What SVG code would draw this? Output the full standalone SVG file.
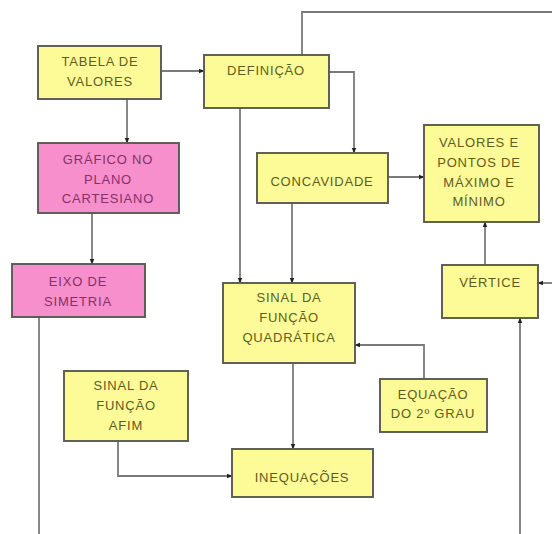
<svg xmlns="http://www.w3.org/2000/svg" width="552" height="534" viewBox="0 0 552 534">
  <style>
    .box { stroke: #5a5a50; stroke-width: 1.9; }
    .y { fill: #fdfb98; }
    .p { fill: #f68fcb; }
    .t { font-family: "Liberation Sans", "DejaVu Sans", sans-serif; font-size: 13px; text-anchor: middle; letter-spacing: 0.8px; }
    .ty { fill: #5f5c1c; }
    .tp { fill: #86306a; }
    .c { fill: none; stroke: #7a7a7a; stroke-width: 1.8; }
  </style>
  <defs>
    <marker id="ah" viewBox="0 0 10 10" refX="9" refY="5" markerWidth="6" markerHeight="6" orient="auto" markerUnits="userSpaceOnUse">
      <path d="M0,1 L10,5 L0,9 z" fill="#222"/>
    </marker>
  </defs>
  <rect width="552" height="534" fill="#ffffff"/>

  <g id="connectors">
    <path class="c" d="M161,71 H204" marker-end="url(#ah)"/>
    <path class="c" d="M127,99 V143" marker-end="url(#ah)"/>
    <path class="c" d="M92,213 V264" marker-end="url(#ah)"/>
    <path class="c" d="M39,317 V534"/>
    <path class="c" d="M240,108 V283" marker-end="url(#ah)"/>
    <path class="c" d="M329,72 H354 V153" marker-end="url(#ah)"/>
    <path class="c" d="M302,55 V12 H552"/>
    <path class="c" d="M388,177 H424" marker-end="url(#ah)"/>
    <path class="c" d="M292,203 V283" marker-end="url(#ah)"/>
    <path class="c" d="M485,265 V222" marker-end="url(#ah)"/>
    <path class="c" d="M552,283 H538" marker-end="url(#ah)"/>
    <path class="c" d="M520,534 V318" marker-end="url(#ah)"/>
    <path class="c" d="M424,379 V345 H355" marker-end="url(#ah)"/>
    <path class="c" d="M293,363 V449" marker-end="url(#ah)"/>
    <path class="c" d="M118,441 V476 H232" marker-end="url(#ah)"/>
  </g>

  <g id="tabela">
    <rect class="box y" x="38" y="46" width="123" height="53"/>
    <text class="t ty" x="100" y="66">TABELA DE</text>
    <text class="t ty" x="100" y="86">VALORES</text>
  </g>

  <g id="definicao">
    <rect class="box y" x="204" y="55" width="125" height="53"/>
    <text class="t ty" x="266" y="75">DEFINIÇÃO</text>
  </g>

  <g id="grafico">
    <rect class="box p" x="38" y="143" width="141" height="70"/>
    <text class="t tp" x="108" y="164">GRÁFICO NO</text>
    <text class="t tp" x="108" y="184">PLANO</text>
    <text class="t tp" x="108" y="203">CARTESIANO</text>
  </g>

  <g id="concavidade">
    <rect class="box y" x="257" y="153" width="131" height="50"/>
    <text class="t ty" x="322" y="186">CONCAVIDADE</text>
  </g>

  <g id="valores">
    <rect class="box y" x="424" y="125" width="115" height="97"/>
    <text class="t ty" x="479" y="147">VALORES E</text>
    <text class="t ty" x="479" y="167">PONTOS DE</text>
    <text class="t ty" x="479" y="187">MÁXIMO E</text>
    <text class="t ty" x="479" y="206">MÍNIMO</text>
  </g>

  <g id="eixo">
    <rect class="box p" x="12" y="264" width="133" height="53"/>
    <text class="t tp" x="78" y="286">EIXO DE</text>
    <text class="t tp" x="78" y="306">SIMETRIA</text>
  </g>

  <g id="vertice">
    <rect class="box y" x="442" y="265" width="96" height="53"/>
    <text class="t ty" x="490" y="287">VÉRTICE</text>
  </g>

  <g id="sinal-quadratica">
    <rect class="box y" x="223" y="283" width="132" height="80"/>
    <text class="t ty" x="289" y="302">SINAL DA</text>
    <text class="t ty" x="289" y="322">FUNÇÃO</text>
    <text class="t ty" x="289" y="342">QUADRÁTICA</text>
  </g>

  <g id="sinal-afim">
    <rect class="box y" x="64" y="371" width="124" height="70"/>
    <text class="t ty" x="126" y="390">SINAL DA</text>
    <text class="t ty" x="126" y="410">FUNÇÃO</text>
    <text class="t ty" x="126" y="430">AFIM</text>
  </g>

  <g id="equacao">
    <rect class="box y" x="380" y="379" width="107" height="53"/>
    <text class="t ty" x="433" y="399">EQUAÇÃO</text>
    <text class="t ty" x="433" y="418">DO 2º GRAU</text>
  </g>

  <g id="inequacoes">
    <rect class="box y" x="232" y="449" width="141" height="48"/>
    <text class="t ty" x="302" y="482">INEQUAÇÕES</text>
  </g>
</svg>
